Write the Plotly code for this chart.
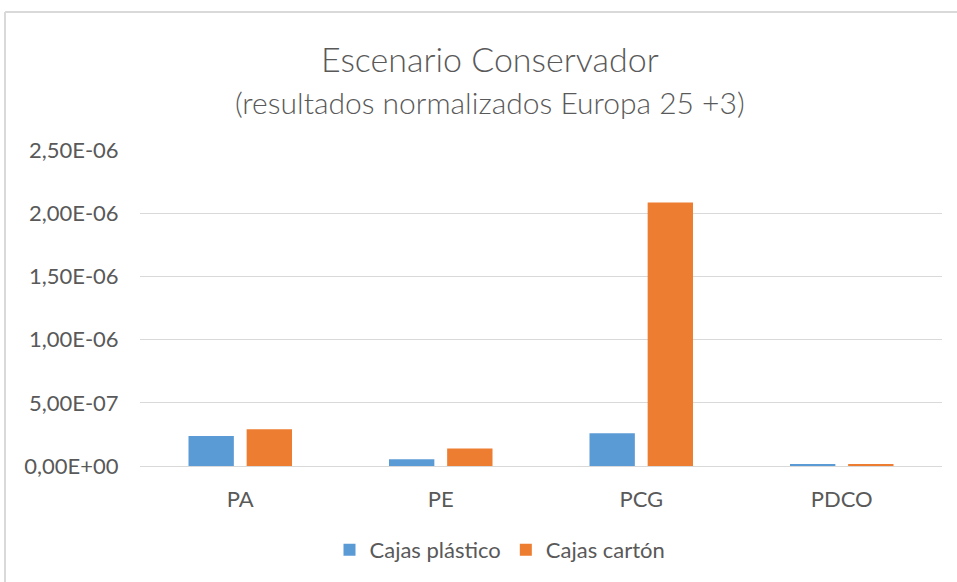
import plotly.graph_objects as go

categories = ["PA", "PE", "PCG", "PDCO"]
cajas_plastico = [2.37e-7, 5.3e-8, 2.59e-7, 1.3e-8]
cajas_carton = [2.9e-7, 1.38e-7, 2.085e-6, 1.3e-8]
tick_values = [0, 5e-7, 1e-6, 1.5e-6, 2e-6, 2.5e-6]
tick_labels = ["0,00E+00", "5,00E-07", "1,00E-06", "1,50E-06", "2,00E-06", "2,50E-06"]

FONT = "Lato"
GRAY = "#595959"

fig = go.Figure()
fig.add_trace(go.Bar(x=categories, y=cajas_plastico, name="Cajas plástico",
                     marker=dict(color="#5B9BD5", line=dict(width=0))))
fig.add_trace(go.Bar(x=categories, y=cajas_carton, name="Cajas cartón",
                     marker=dict(color="#ED7D31", line=dict(width=0))))

W, H = 957, 582
L, R, T, B = 140, 15, 150, 116
pw = W - L - R
ph = H - T - B

def px_x(x):
    return (x - L) / pw

def px_y(y):
    return (H - B - y) / ph

fig.update_layout(
    width=W, height=H, autosize=False,
    margin=dict(l=L, r=R, t=T, b=B, autoexpand=False),
    paper_bgcolor="white", plot_bgcolor="white",
    barmode="group", bargap=0.42, bargroupgap=0.22,
    font=dict(family=FONT, color=GRAY, size=22),
    showlegend=True,
    legend=dict(orientation="h", x=px_x(500), xanchor="center",
                y=px_y(550), yanchor="middle",
                font=dict(size=22, color=GRAY),
                traceorder="normal"),
    xaxis=dict(showgrid=False, showline=False, zeroline=False, automargin=False,
               tickfont=dict(size=22, color=GRAY), ticks="outside", ticklen=14,
               tickcolor="rgba(0,0,0,0)"),
    yaxis=dict(range=[0, 2.5e-6], tickvals=tick_values, ticktext=tick_labels,
               showgrid=True, gridcolor="#D9D9D9", gridwidth=1, automargin=False,
               zeroline=True, zerolinecolor="#D9D9D9", zerolinewidth=1,
               showline=False, tickfont=dict(size=22, color=GRAY),
               ticks="outside", ticklen=16, tickcolor="rgba(0,0,0,0)"),
    annotations=[
        dict(text="Escenario Conservador", x=px_x(490), y=px_y(58),
             xref="paper", yref="paper", showarrow=False,
             xanchor="center", yanchor="middle",
             font=dict(size=34, color=GRAY, family=FONT, weight=300)),
        dict(text="(resultados normalizados Europa 25 +3)", x=px_x(490), y=px_y(102),
             xref="paper", yref="paper", showarrow=False,
             xanchor="center", yanchor="middle",
             font=dict(size=30, color=GRAY, family=FONT, weight=300)),
    ],
    shapes=[
        dict(type="line", xref="paper", yref="paper",
             x0=px_x(5), x1=px_x(957), y0=px_y(12), y1=px_y(12),
             line=dict(color="#D9D9D9", width=2)),
        dict(type="line", xref="paper", yref="paper",
             x0=px_x(5), x1=px_x(5), y0=px_y(12), y1=px_y(582),
             line=dict(color="#D9D9D9", width=2)),
    ],
)

fig.write_html("out.html", config={"displayModeBar": False},
               post_script="document.body.style.margin='0';document.body.style.overflow='hidden';")
